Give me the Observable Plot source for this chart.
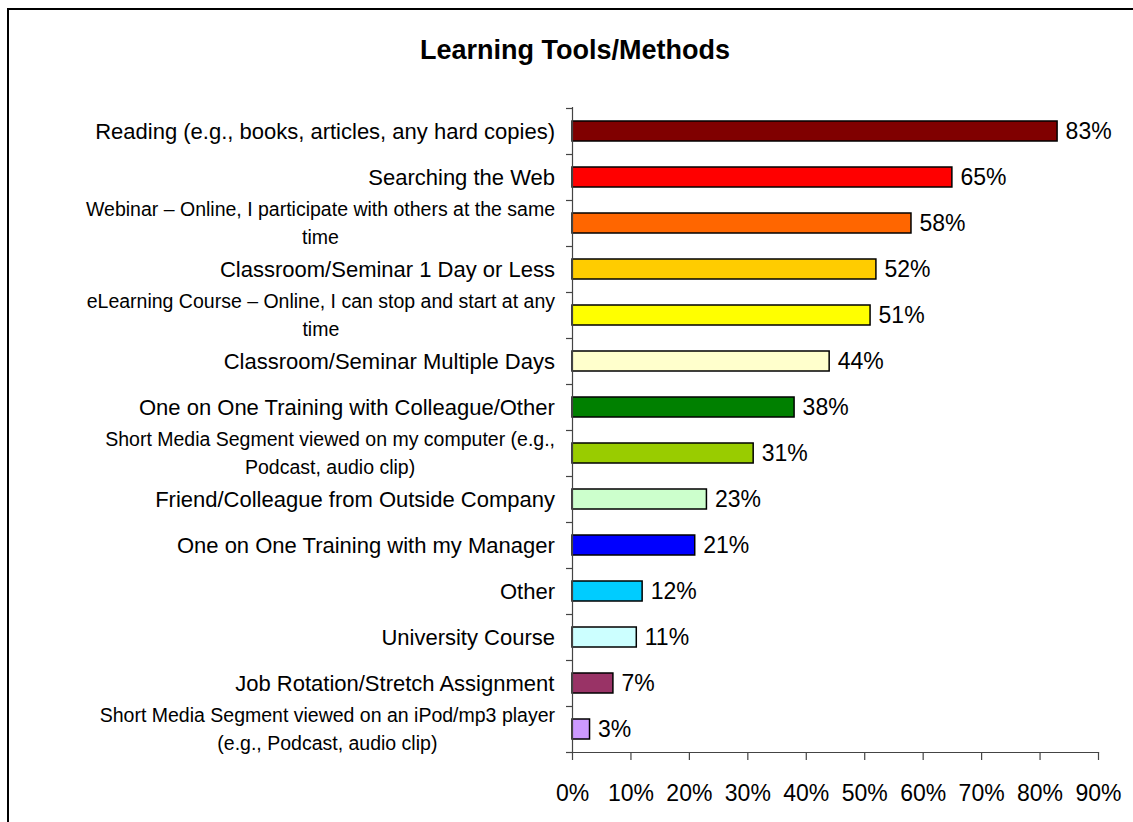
<!DOCTYPE html>
<html>
<head>
<meta charset="utf-8">
<script src="https://cdn.jsdelivr.net/npm/d3@7"></script>
<script src="https://cdn.jsdelivr.net/npm/@observablehq/plot@0.6"></script>
<style>
  body { margin: 0; background: #fff; font-family: "Liberation Sans", Arial, sans-serif; }
  #wrap { position: relative; width: 1133px; height: 822px; overflow: hidden; background: #fff; }
  #frame { position: absolute; left: 7px; top: 8px; width: 1200px; height: 900px; border-left: 2px solid #000; border-top: 2px solid #000; box-sizing: border-box; }
  #title { position: absolute; left: 0; top: 35px; width: 1150px; text-align: center; font-weight: bold; font-size: 27px; line-height: 30px; color: #000; }
  #chart { position: absolute; left: 0; top: 0; }
</style>
</head>
<body>
<div id="wrap">
  <div id="frame"></div>
  <div id="title">Learning Tools/Methods</div>
  <div id="chart"></div>
</div>
<script>
const categories = [
  "Reading (e.g., books, articles, any hard copies)",
  "Searching the Web",
  "Webinar – Online, I participate with others at the same\ntime",
  "Classroom/Seminar 1 Day or Less",
  "eLearning Course – Online, I can stop and start at any\ntime",
  "Classroom/Seminar Multiple Days",
  "One on One Training with Colleague/Other",
  "Short Media Segment viewed on my computer (e.g.,\nPodcast, audio clip)",
  "Friend/Colleague from Outside Company",
  "One on One Training with my Manager",
  "Other",
  "University Course",
  "Job Rotation/Stretch Assignment",
  "Short Media Segment viewed on an iPod/mp3 player\n(e.g., Podcast, audio clip)"
];
const values = [83, 65, 58, 52, 51, 44, 38, 31, 23, 21, 12, 11, 7, 3];
const colors = ["#800000", "#FF0000", "#FF6600", "#FFCC00", "#FFFF00", "#FFFFCC", "#008000",
                "#99CC00", "#CCFFCC", "#0000FF", "#00CCFF", "#CCFFFF", "#993366", "#CC99FF"];
const xTicks = [0, 10, 20, 30, 40, 50, 60, 70, 80, 90];

const data = categories.map((c, i) => ({category: c, value: values[i], color: colors[i]}));

const FONT = '"Liberation Sans", Arial, sans-serif';
const labelSize = 22;
const wrapSize = 19.5;
const lineH = 28;

function yAxisMark(index, scales, vals, dims) {
  const y = scales.y;
  const g = d3.create("svg:g");
  const step = y(categories[1]) - y(categories[0]);
  const y0 = y(categories[0]);
  const left = dims.marginLeft;
  for (let i = 0; i <= categories.length; i++) {
    const yy = Math.round(y0 + i * step) + 0.5;
    g.append("line").attr("x1", left - 6).attr("x2", left).attr("y1", yy).attr("y2", yy)
      .attr("stroke", "#444").attr("stroke-width", 1.2);
  }
  const ctx = document.createElement("canvas").getContext("2d");
  for (const c of categories) {
    const lines = c.split("\n");
    const fs = lines.length > 1 ? wrapSize : labelSize;
    ctx.font = `${fs}px "Liberation Sans"`;
    const maxW = d3.max(lines, l => ctx.measureText(l).width);
    const cx = left - 17 - maxW / 2;
    const yc = y(c) + step / 2;
    const t = g.append("text").attr("text-anchor", "middle").attr("font-size", fs)
      .attr("font-family", FONT).attr("fill", "#000");
    lines.forEach((l, j) => {
      t.append("tspan").attr("x", cx).attr("y", yc + (j - (lines.length - 1) / 2) * lineH)
        .attr("dy", "0.36em").text(l);
    });
  }
  return g.node();
}

const chart = Plot.plot({
  width: 1133,
  height: 822,
  marginLeft: 572,
  marginRight: 35,
  marginTop: 107,
  marginBottom: 70,
  style: {fontFamily: FONT, background: "transparent", color: "#000", overflow: "visible"},
  x: {domain: [0, 90]},
  y: {domain: categories, padding: 0, axis: null},
  color: {type: "identity"},
  marks: [
    Plot.barX(data, {x: "value", y: "category", fill: "color", stroke: "#000", strokeWidth: 1.5, insetTop: 13, insetBottom: 13}),
    Plot.text(data, {x: "value", y: "category", text: d => d.value + "%", textAnchor: "start", dx: 8, fontSize: 23, fill: "#000"}),
    Plot.ruleX([0], {stroke: "#444", strokeWidth: 1.2}),
    Plot.axisX({ticks: xTicks, tickFormat: d => d + "%", tickSize: 8, tickPadding: 24, fontSize: 23, stroke: "#444", strokeWidth: 1.2, fill: "#000", label: null, anchor: "bottom"}),
    Plot.frame({anchor: "bottom", stroke: "#444", strokeWidth: 1.2}),
    yAxisMark
  ]
});
document.getElementById("chart").appendChild(chart);
</script>
</body>
</html>
